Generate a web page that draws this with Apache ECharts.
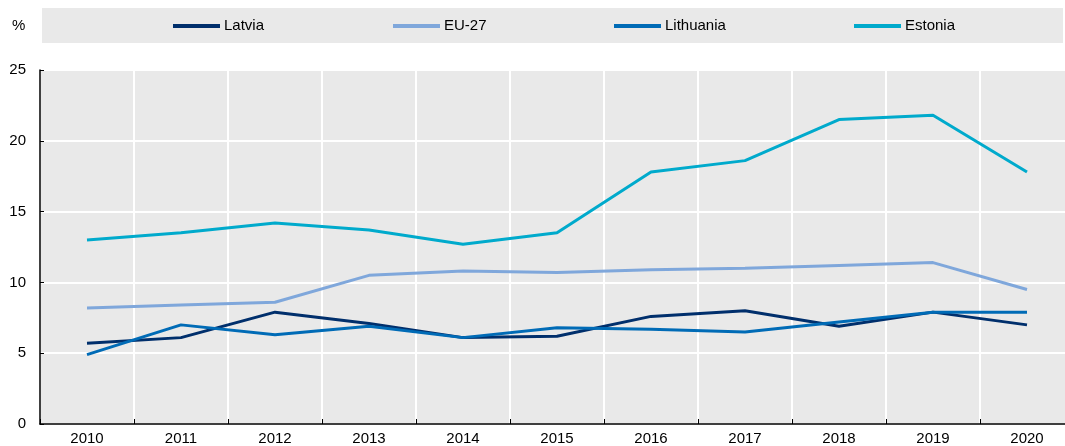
<!DOCTYPE html>
<html>
<head>
<meta charset="utf-8">
<script src="https://cdn.jsdelivr.net/npm/echarts@6/dist/echarts.min.js"></script>
<style>
html,body{margin:0;padding:0;background:#fff;}
#c{width:1065px;height:446px;}
</style>
</head>
<body>
<div id="c"></div>
<script>
const years = ['2010','2011','2012','2013','2014','2015','2016','2017','2018','2019','2020'];
const latvia    = [5.7, 6.1, 7.9, 7.1, 6.1, 6.2, 7.6, 8.0, 6.9, 7.9, 7.0];
const eu27      = [8.2, 8.4, 8.6, 10.5, 10.8, 10.7, 10.9, 11.0, 11.2, 11.4, 9.5];
const lithuania = [4.9, 7.0, 6.3, 6.9, 6.1, 6.8, 6.7, 6.5, 7.2, 7.9, 7.9];
const estonia   = [13.0, 13.5, 14.2, 13.7, 12.7, 13.5, 17.8, 18.6, 21.5, 21.8, 17.8];
const yTicks = [0, 5, 10, 15, 20, 25];

const FONT = "'Liberation Sans',Arial,sans-serif";
const FS = 15;
const colors = {Latvia:'#002f6c', 'EU-27':'#7fa7db', Lithuania:'#006bb6', Estonia:'#00aacc'};
const seriesDefs = [
  ['Latvia', latvia], ['EU-27', eu27], ['Lithuania', lithuania], ['Estonia', estonia]
];
const legendLeft = [173, 393, 614, 854];

const chart = echarts.init(document.getElementById('c'), null, {renderer:'canvas'});
chart.setOption({
  animation: false,
  textStyle: {fontFamily: FONT},
  graphic: [
    {type:'rect', shape:{x:42, y:8, width:1021, height:35}, style:{fill:'#e9e9e9'}, z:-1},
    {type:'text', left:12, top:18, style:{text:'%', font:FS + 'px ' + FONT, fill:'#000'}}
  ],
  legend: seriesDefs.map((s, i) => ({
    data: [s[0]],
    left: legendLeft[i],
    top: 17,
    icon: 'rect',
    itemWidth: 47,
    itemHeight: 4,
    itemGap: 0,
    padding: 0,
    textStyle: {fontFamily: FONT, fontSize: FS, color: '#000', lineHeight: 18, padding:[0,0,0,-1]}
  })),
  grid: {
    left: 40, right: -9, top: 70, bottom: 22,
    show: true, backgroundColor: '#e9e9e9', borderWidth: 0,
    outerBoundsMode: 'none', containLabel: false
  },
  xAxis: {
    type: 'category',
    data: years,
    boundaryGap: true,
    axisLine: {lineStyle: {color: '#000', width: 1.5}},
    axisTick: {show: true, inside: true, length: 5, lineStyle: {color: '#000', width: 1}},
    axisLabel: {color: '#000', fontSize: FS, fontFamily: FONT, margin: 7},
    splitLine: {show: true, lineStyle: {color: '#fff', width: 2}}
  },
  yAxis: {
    type: 'value',
    min: 0, max: 25, interval: 5,
    axisLine: {show: true, lineStyle: {color: '#000', width: 1.5}},
    axisTick: {show: true, inside: true, length: 4, lineStyle: {color: '#000', width: 1}},
    axisLabel: {color: '#000', fontSize: FS, fontFamily: FONT, margin: 14,
      formatter: v => yTicks.includes(v) ? String(v) : ''},
    splitLine: {show: true, lineStyle: {color: '#fff', width: 2}}
  },
  series: seriesDefs.map(s => ({
    name: s[0],
    type: 'line',
    data: s[1],
    symbol: 'none',
    color: colors[s[0]],
    lineStyle: {width: 3, color: colors[s[0]]},
    z: 3
  }))
});
</script>
</body>
</html>
